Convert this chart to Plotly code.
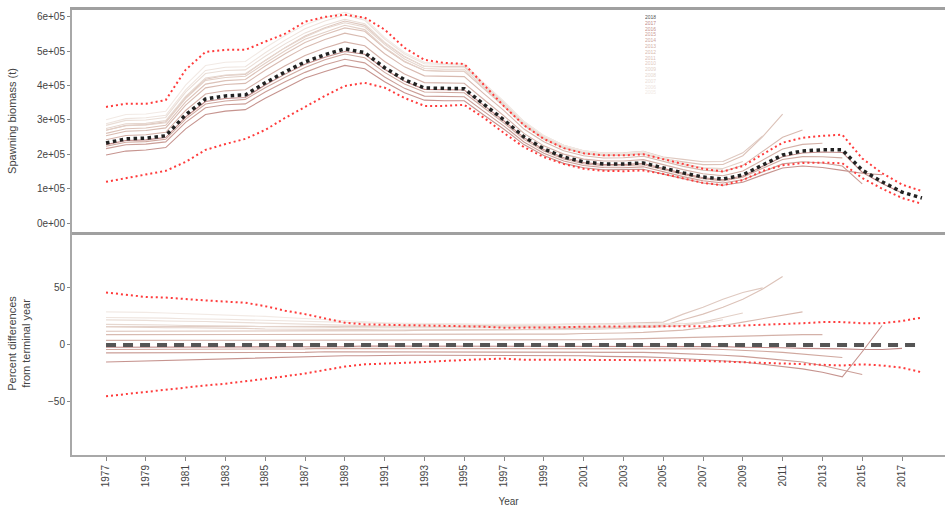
import plotly.graph_objects as go

# ---------------- data ----------------
years = list(range(1977, 2019))

# terminal-year (2018) spawning biomass (t)
ssb_2018 = [233000, 245000, 247000, 254000, 315000, 361000, 370000, 373000, 408000, 440000,
            469000, 490000, 507000, 496000, 452000, 417000, 393000, 391000, 391000, 345000,
            300000, 251000, 216000, 192000, 178000, 172000, 172000, 175000, 160000, 146000,
            134000, 128000, 140000, 169000, 198000, 210000, 213000, 213000, 154000, 120000,
            90000, 73000]
ci_upper = [338000, 347000, 347000, 358000, 446000, 498000, 504000, 504000, 528000, 551000,
            586000, 600000, 606000, 598000, 563000, 510000, 475000, 466000, 463000, 400000,
            340000, 285000, 245000, 218000, 203000, 197000, 197000, 200000, 186000, 172000,
            158000, 150000, 166000, 200000, 234000, 248000, 254000, 257000, 188000, 145000,
            112000, 93000]
ci_lower = [120000, 131000, 140000, 152000, 178000, 213000, 230000, 245000, 271000, 306000,
            338000, 370000, 399000, 408000, 394000, 364000, 341000, 341000, 344000, 306000,
            262000, 221000, 192000, 172000, 158000, 152000, 151000, 153000, 143000, 131000,
            117000, 110000, 125000, 152000, 168000, 175000, 176000, 174000, 131000, 100000,
            73000, 56000]

# percent differences of the CI from the terminal year
pct_upper = [46, 44, 42, 41.5, 40, 39, 38, 37, 34, 30,
             27, 23, 19.5, 18, 17.5, 17.5, 17, 16.7, 16.5, 16,
             15, 15, 15, 15.5, 16, 16, 16, 16, 16, 16,
             16, 16.5, 17, 17.5, 18, 19, 20, 20, 19, 19,
             21, 24]
pct_lower = [-45, -43, -41, -39, -37, -35.5, -34, -32, -30, -27.5,
             -25, -22, -19, -17, -16.5, -16, -15, -14, -13, -12.5,
             -12, -13, -13, -13, -13, -13, -13, -13, -13.5, -13.5,
             -14, -14.5, -15, -15.5, -16, -17, -17.5, -18, -17, -18,
             -20, -24]

# retrospective peels: percent difference from terminal year (1977 .. end year)
peel_years = [2017, 2016, 2015, 2014, 2013, 2012, 2011, 2010, 2009, 2008, 2007, 2006, 2005]
peel_pct = {
    2017: [-2, -2, -2, -2, -2, -2, -2, -2, -1.5, -1.5,
           -1.5, -1.5, -1.5, -1, -1, -1, -1, -1, -1, -1,
           -1, -1, -1, -1, -1, -1, -1, -1, -1, -1,
           -1.5, -1.5, -2, -2, -2.5, -3, -3, -3.5, -4, -4,
           -3],
    2016: [-15, -14.5, -14, -13.5, -13, -12.5, -12, -11.5, -11, -10.5,
           -10, -10, -9.5, -9.5, -9, -9, -9, -9, -9, -9,
           -9, -9, -9, -9.5, -9.5, -10, -10, -10.5, -11, -12,
           -13, -14, -15, -17, -19, -21, -24, -28, -6, 17],
    2015: [-7, -7, -7, -7, -7, -7, -7, -7, -6.5, -6.5,
           -6.5, -6, -6, -6, -6, -6, -6, -6, -6, -6,
           -6, -6, -6, -6, -6, -6, -6.5, -6.5, -7, -7.5,
           -8, -9, -10, -11.5, -13, -15, -18, -22, -26],
    2014: [-4, -4, -4, -4, -4, -4, -4, -3.5, -3.5, -3.5,
           -3.5, -3, -3, -3, -3, -3, -3, -3, -3, -3,
           -3, -3, -3, -3, -3, -3, -3, -3, -3, -3,
           -3.5, -4, -4.5, -5.5, -6.5, -8, -9.5, -11],
    2013: [4, 4, 4, 4, 4, 4, 4, 4, 4, 4,
           4, 4, 4, 4, 4, 4, 4, 4, 4, 4,
           4, 4, 4, 4.5, 4.5, 5, 5, 5.5, 6, 6.5,
           7, 7.5, 8, 8.5, 9, 9, 9],
    2012: [9, 9, 9, 9, 9, 9, 9, 9, 9, 9,
           9, 9, 9, 9, 9, 9, 9, 9, 9, 9,
           9, 9, 9.5, 9.5, 10, 10, 10.5, 11, 12, 13,
           15, 17, 20, 23, 26, 29],
    2011: [12, 12, 12, 12, 12, 12, 12, 12, 12, 12,
           12, 12, 12, 12.5, 12.5, 12.5, 13, 13, 13, 13,
           13.5, 13.5, 14, 14, 14.5, 15, 15.5, 16, 17, 22,
           27, 33, 40, 49, 60],
    2010: [16, 16, 16, 16, 16, 16, 16, 16, 16, 16,
           16, 16, 16, 16, 16, 16, 16, 16.5, 16.5, 17,
           17, 17.5, 17.5, 18, 18, 18.5, 19, 19.5, 20, 27,
           33, 40, 46, 50],
    2009: [16, 15.5, 15.5, 15, 15, 15, 14.5, 14.5, 14, 14,
           14, 13.5, 13.5, 13.5, 13, 13, 13, 13, 13, 13,
           13, 13, 13, 13.5, 13.5, 14, 14.5, 15, 16, 17,
           20, 24, 28],
    2008: [18, 18, 17.5, 17.5, 17, 17, 16.5, 16.5, 16, 16,
           15.5, 15.5, 15, 15, 15, 14.5, 14.5, 14.5, 14.5, 14.5,
           14.5, 14.5, 14.5, 14.5, 15, 15, 15, 15.5, 16, 17,
           19, 22],
    2007: [22, 22, 21.5, 21, 21, 20.5, 20, 19.5, 19, 18.5,
           18, 17.5, 17, 17, 16.5, 16.5, 16, 16, 16, 16,
           16, 16, 16, 16, 16, 16.5, 16.5, 17, 17.5, 18.5,
           20],
    2006: [24, 24, 24, 23.5, 23, 23, 22.5, 22, 21.5, 21,
           20.5, 20, 19.5, 19, 18.5, 18, 18, 18, 17.5, 17.5,
           17.5, 17.5, 17.5, 17.5, 17.5, 18, 18, 18.5, 18.5, 19],
    2005: [29, 29, 28.5, 28, 27.5, 27, 26.5, 26, 25, 24,
           23, 22, 21, 20, 19.5, 19, 19, 18.5, 18.5, 18,
           18, 18, 18, 18, 18, 18, 18, 18.5, 18.5],
}

ssb_ticks = [0, 100000, 200000, 300000, 400000, 500000, 600000]
ssb_ticklabels = ["0e+00", "1e+05", "2e+05", "3e+05", "4e+05", "5e+05", "6e+05"]
pct_ticks = [-50, 0, 50]
year_ticks = list(range(1977, 2018, 2))

# ---------------- styles ----------------
peel_colors = ["#c08a88", "#c6948f", "#cb9e97", "#d0a89f", "#d4b1a8", "#d8bab0",
               "#dcc2b8", "#dfc9c0", "#e3d0c7", "#e6d7cf", "#eaded7", "#eee4de", "#f2eae5"]
FONT = "Liberation Sans, Arial, sans-serif"

fig = go.Figure()

for py, col in zip(peel_years, peel_colors):
    n = py - 1977 + 1
    xs = years[:n]
    ys = [s * (1 + p / 100.0) for s, p in zip(ssb_2018[:n], peel_pct[py])]
    fig.add_trace(go.Scatter(x=xs, y=ys, mode="lines", line=dict(color=col, width=1.1),
                             xaxis="x", yaxis="y", showlegend=False, hoverinfo="skip"))
    fig.add_trace(go.Scatter(x=xs, y=peel_pct[py], mode="lines", line=dict(color=col, width=1.1),
                             xaxis="x2", yaxis="y2", showlegend=False, hoverinfo="skip"))

for arr in (ci_upper, ci_lower):
    fig.add_trace(go.Scatter(x=years, y=arr, mode="lines",
                             line=dict(color="#ff3b3b", width=2, dash="2px,3px"),
                             xaxis="x", yaxis="y", showlegend=False))
fig.add_trace(go.Scatter(x=years, y=ssb_2018, mode="lines",
                         line=dict(color="#222222", width=3.5, dash="3.5px,3.5px"),
                         xaxis="x", yaxis="y", showlegend=False))

for arr in (pct_upper, pct_lower):
    fig.add_trace(go.Scatter(x=years, y=arr, mode="lines",
                             line=dict(color="#ff3b3b", width=2, dash="2px,3px"),
                             xaxis="x2", yaxis="y2", showlegend=False))
fig.add_trace(go.Scatter(x=years, y=[0] * len(years), mode="lines",
                         line=dict(color="#555555", width=4, dash="10px,7px"),
                         xaxis="x2", yaxis="y2", showlegend=False))

legend_years = [2018] + peel_years
legend_colors = ["#555555"] + peel_colors
for k, (ly, lc) in enumerate(zip(legend_years, legend_colors)):
    fig.add_annotation(x=0.663, y=(455 - (17 + k * 5.8)) / 445.0, xref="paper", yref="paper",
                       text=str(ly), showarrow=False, font=dict(size=5, color=lc, family=FONT),
                       xanchor="center", yanchor="middle", height=5.6, valign="middle")

split = (455 - 232) / 445.0
xr = [1975.29, 2019.16]
axis_line = dict(showline=True, linecolor="#a8a8a8", linewidth=2, automargin=False)

fig.update_layout(
    width=945, height=515,
    margin=dict(l=72, r=0, t=10, b=60),
    paper_bgcolor="white", plot_bgcolor="white",
    font=dict(family=FONT, color="#444444", size=10),
    xaxis=dict(domain=[0, 1], anchor="y", range=xr, showticklabels=False, ticks="",
               showgrid=False, zeroline=False, showline=True, mirror=True,
               linecolor="#a0a0a0", linewidth=3, automargin=False),
    yaxis=dict(domain=[split, 1], anchor="x", range=[-26000, 620000],
               tickvals=ssb_ticks, ticktext=ssb_ticklabels, ticks="outside", ticklen=3,
               tickcolor="#888888", showgrid=False, zeroline=False,
               tickfont=dict(size=10, color="#444444"),
               title=dict(text="Spawning biomass (t)", font=dict(size=11, color="#444444"),
                          standoff=18),
               **axis_line),
    xaxis2=dict(domain=[0, 1], anchor="y2", range=xr, tickvals=year_ticks,
                ticktext=[str(t) for t in year_ticks], tickangle=-90, ticks="outside",
                ticklen=4, tickcolor="#888888", showgrid=False, zeroline=False,
                tickfont=dict(size=10, color="#444444"),
                title=dict(text="Year", font=dict(size=10, color="#444444"), standoff=12),
                **axis_line),
    yaxis2=dict(domain=[0, split], anchor="x2", range=[-96.5, 99], tickvals=pct_ticks,
                ticks="outside", ticklen=3, tickcolor="#888888", showgrid=False,
                zeroline=False, tickfont=dict(size=10, color="#444444"),
                title=dict(text="Percent differences<br>from terminal year",
                           font=dict(size=11, color="#444444"), standoff=15),
                **axis_line),
)

fig.write_html("out.html", config={"displayModeBar": False},
               post_script="document.body.style.margin='0';document.body.style.overflow='hidden';")
